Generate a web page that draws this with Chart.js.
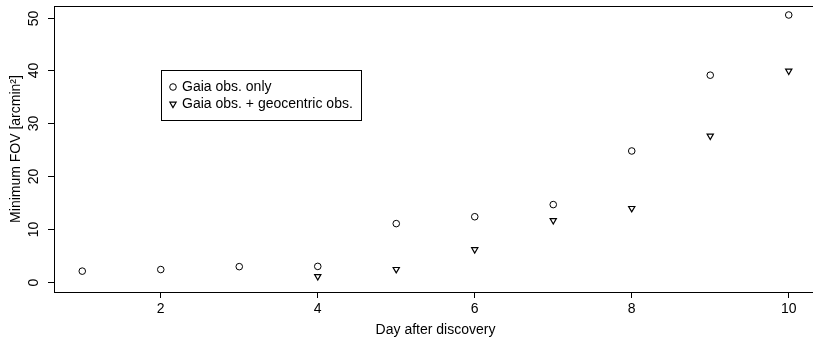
<!DOCTYPE html>
<html>
<head>
<meta charset="utf-8">
<script src="https://cdn.jsdelivr.net/npm/chart.js@4/dist/chart.umd.min.js"></script>
<style>
    html, body { margin: 0; padding: 0; background: #fff; overflow: hidden; }
    #wrap { position: relative; width: 830px; height: 337px; }
</style>
</head>
<body>
<div id="wrap"><canvas id="fovChart"></canvas></div>
<script>
    // data
    const days = [1, 2, 3, 4, 5, 6, 7, 8, 9, 10];
    const gaiaOnly = [2.0, 2.3, 2.85, 2.9, 11.0, 12.3, 14.6, 24.75, 39.1, 50.5];
    const gaiaGeo = [null, null, null, 1.0, 2.35, 6.1, 11.6, 13.9, 27.6, 39.9];
    const xTicks = [2, 4, 6, 8, 10];
    const yTicks = [0, 10, 20, 30, 40, 50];
    const seriesNames = ['Gaia obs. only', 'Gaia obs. + geocentric obs.'];
    const xTitle = 'Day after discovery';
    const yTitle = 'Minimum FOV [arcmin²]';

    const FAMILY = '"Liberation Sans", Arial, sans-serif';
    const FONT = '14px ' + FAMILY;

    function toPoints(values) {
        return days.map((d, i) => ({ x: d, y: values[i] })).filter(p => p.y !== null);
    }

    // box, y labels, axis titles and the legend, R style
    const rStyle = {
        id: 'rStyle',
        afterDraw(chart) {
            const ctx = chart.ctx;
            const a = chart.chartArea;
            const yScale = chart.scales.y;
            ctx.save();
            ctx.strokeStyle = '#000';
            ctx.lineWidth = 1;
            ctx.strokeRect(a.left + 0.5, a.top + 0.5, a.right - a.left, a.bottom - a.top);

            // y ticks and rotated labels
            ctx.fillStyle = '#000';
            ctx.font = FONT;
            ctx.textAlign = 'center';
            ctx.textBaseline = 'middle';
            yTicks.forEach(v => {
                const py = Math.round(yScale.getPixelForValue(v)) + 0.5;
                ctx.beginPath();
                ctx.moveTo(a.left - 6, py);
                ctx.lineTo(a.left, py);
                ctx.stroke();
                ctx.save();
                ctx.translate(34, py);
                ctx.rotate(-Math.PI / 2);
                ctx.fillText(String(v), 0, 0);
                ctx.restore();
            });

            // axis titles
            ctx.save();
            ctx.translate(16, (a.top + a.bottom) / 2);
            ctx.rotate(-Math.PI / 2);
            ctx.fillText(yTitle, 0, 0);
            ctx.restore();
            ctx.textBaseline = 'alphabetic';
            ctx.fillText(xTitle, (a.left + a.right) / 2, 334);

            // legend
            ctx.strokeRect(161.5, 70.5, 200, 50);
            ctx.textAlign = 'left';
            ctx.textBaseline = 'middle';
            chart.data.datasets.forEach((ds, i) => {
                const ly = 87 + i * 17;
                ctx.fillStyle = 'rgba(0,0,0,0)';
                ctx.strokeStyle = '#000';
                ctx.lineWidth = ds.borderWidth;
                Chart.helpers.drawPoint(ctx, {
                    pointStyle: ds.pointStyle,
                    rotation: ds.rotation || 0,
                    radius: ds.pointRadius,
                    borderWidth: ds.borderWidth
                }, 173, ly);
                ctx.fillStyle = '#000';
                ctx.fillText(ds.label, 182, ly);
            });
            ctx.restore();
        }
    };

    const ctx = document.getElementById('fovChart').getContext('2d');
    new Chart(ctx, {
        type: 'scatter',
        data: {
            datasets: [{
                label: seriesNames[0],
                data: toPoints(gaiaOnly),
                pointStyle: 'circle',
                pointRadius: 3.3,
                borderWidth: 1,
                borderColor: '#000',
                backgroundColor: 'rgba(0,0,0,0)'
            }, {
                label: seriesNames[1],
                data: toPoints(gaiaGeo),
                pointStyle: 'triangle',
                rotation: 180,
                pointRadius: 3.6,
                borderWidth: 1.2,
                borderColor: '#000',
                backgroundColor: 'rgba(0,0,0,0)'
            }]
        },
        options: {
            responsive: true,
            maintainAspectRatio: false,
            animation: false,
            devicePixelRatio: 1,
            layout: { padding: { top: 6, right: 13, bottom: 0, left: 0 } },
            plugins: {
                legend: { display: false },
                tooltip: { enabled: false }
            },
            scales: {
                x: {
                    type: 'linear',
                    min: 0.64,
                    max: 10.36,
                    afterBuildTicks: scale => { scale.ticks = xTicks.map(v => ({ value: v })); },
                    afterFit: scale => { scale.height = 45; },
                    border: { display: false },
                    grid: { drawOnChartArea: false, drawTicks: true, tickLength: 6, color: '#000' },
                    ticks: { color: '#000', font: { family: FAMILY, size: 14 }, padding: 3, maxRotation: 0 }
                },
                y: {
                    type: 'linear',
                    min: -1.95,
                    max: 52.2,
                    afterBuildTicks: scale => { scale.ticks = yTicks.map(v => ({ value: v })); },
                    afterFit: scale => { scale.width = 54; },
                    border: { display: false },
                    grid: { display: false },
                    ticks: { display: false }
                }
            }
        },
        plugins: [rStyle]
    });
</script>
</body>
</html>
